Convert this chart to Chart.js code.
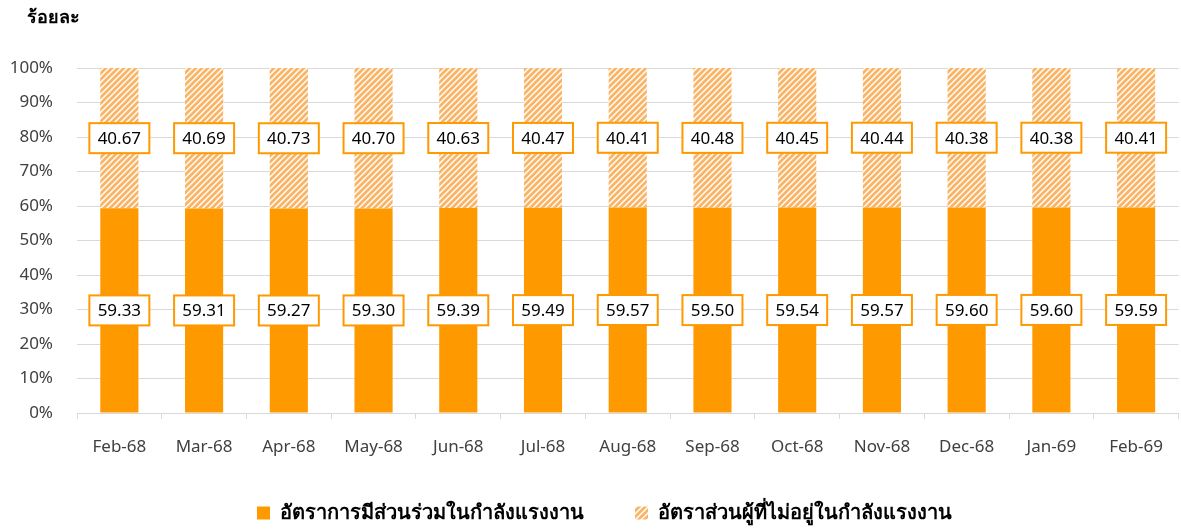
<!DOCTYPE html>
<html>
<head>
<meta charset="utf-8">
<script src="https://cdn.jsdelivr.net/npm/chart.js@4.4.1/dist/chart.umd.min.js"></script>
<style>
  html, body { margin: 0; padding: 0; background: #ffffff; }
  #wrap { position: relative; width: 1181px; height: 532px; }
</style>
</head>
<body>
<div id="wrap"><canvas id="c" width="1181" height="532"></canvas></div>
<script>
const categories = ["Feb-68","Mar-68","Apr-68","May-68","Jun-68","Jul-68","Aug-68","Sep-68","Oct-68","Nov-68","Dec-68","Jan-69","Feb-69"];
const participationRate = [59.33,59.31,59.27,59.30,59.39,59.49,59.57,59.50,59.54,59.57,59.60,59.60,59.59];
const nonParticipationRate = [40.67,40.69,40.73,40.70,40.63,40.47,40.41,40.48,40.45,40.44,40.38,40.38,40.41];
const seriesNames = ["อัตราการมีส่วนร่วมในกำลังแรงงาน", "อัตราส่วนผู้ที่ไม่อยู่ในกำลังแรงงาน"];
const yTitle = "ร้อยละ";

const FONT = "Tahoma, 'Noto Sans', 'DejaVu Sans', sans-serif";
const ORANGE = "#FF9900";

function makeHatch() {
  const size = 6;
  const pc = document.createElement('canvas');
  pc.width = size; pc.height = size;
  const g = pc.getContext('2d');
  g.fillStyle = '#ffffff';
  g.fillRect(0, 0, size, size);
  g.strokeStyle = '#F9B466';
  g.lineWidth = 2.8;
  g.beginPath();
  g.moveTo(-1, size + 1); g.lineTo(size + 1, -1);
  g.moveTo(-1, 1); g.lineTo(1, -1);
  g.moveTo(size - 1, size + 1); g.lineTo(size + 1, size - 1);
  g.stroke();
  return g.createPattern(pc, 'repeat');
}
const ctx = document.getElementById('c').getContext('2d');
const hatch = makeHatch();

const legendShift = {
  id: 'legendShift',
  afterLayout(chart) {
    const lg = chart.legend;
    if (!lg) return;
    lg.left += 28; lg.right += 0;
    lg.top -= 4; lg.bottom -= 4;
  }
};

const labelPlugin = {
  id: 'boxLabels',
  afterDatasetsDraw(chart) {
    const c = chart.ctx;
    c.save();
    chart.data.datasets.forEach((ds, di) => {
      const meta = chart.getDatasetMeta(di);
      meta.data.forEach((bar, i) => {
        const cy = (bar.y + bar.base) / 2;
        const cx = bar.x;
        const w = 60, h = 30;
        c.fillStyle = '#ffffff';
        c.fillRect(cx - w / 2, cy - h / 2, w, h);
        c.strokeStyle = ORANGE;
        c.lineWidth = 2;
        c.strokeRect(cx - w / 2, cy - h / 2, w, h);
        c.fillStyle = '#000000';
        c.font = "17px " + FONT;
        c.textAlign = 'center';
        c.textBaseline = 'middle';
        c.fillText(ds.data[i].toFixed(2), cx, cy + 1);
      });
    });
    c.restore();
  },
  afterDraw(chart) {
    const c = chart.ctx;
    c.save();
    c.fillStyle = '#000000';
    c.font = "bold 18px " + FONT;
    c.textAlign = 'left';
    c.textBaseline = 'middle';
    c.fillText(yTitle, 27, 18);
    c.restore();
  }
};

new Chart(ctx, {
  type: 'bar',
  data: {
    labels: categories,
    datasets: [
      { label: seriesNames[0], data: participationRate, backgroundColor: ORANGE, borderWidth: 0,
        barPercentage: 0.45, categoryPercentage: 1.0 },
      { label: seriesNames[1], data: nonParticipationRate, backgroundColor: hatch, borderWidth: 0,
        barPercentage: 0.45, categoryPercentage: 1.0 }
    ]
  },
  options: {
    responsive: false,
    animation: false,
    layout: { padding: { top: 68, right: 0, left: 0, bottom: 0 } },
    plugins: {
      legend: {
        position: 'bottom',
        maxHeight: 76,
        labels: {
          boxWidth: 13, boxHeight: 13, padding: 51,
          color: '#000000',
          font: { family: FONT, size: 20, weight: 'bold' }
        }
      },
      tooltip: { enabled: false },
      title: { display: false }
    },
    scales: {
      x: {
        stacked: true,
        grid: { offset: true, drawOnChartArea: false, drawTicks: true, tickLength: 6, color: '#D9D9D9' },
        border: { color: '#D9D9D9', width: 1 },
        ticks: { color: '#404040', font: { family: FONT, size: 17 }, padding: 18, maxRotation: 0, autoSkip: false },
        afterFit(s) { s.height = 43; }
      },
      y: {
        stacked: true,
        min: 0, max: 100,
        grid: { color: '#D9D9D9', drawTicks: false, lineWidth: 1 },
        border: { display: false },
        ticks: { stepSize: 10, color: '#404040', font: { family: FONT, size: 17 }, padding: 24,
                 callback: v => v + '%' },
        afterFit(s) { s.width = 77; }
      }
    }
  },
  plugins: [labelPlugin, legendShift]
});
</script>
</body>
</html>
